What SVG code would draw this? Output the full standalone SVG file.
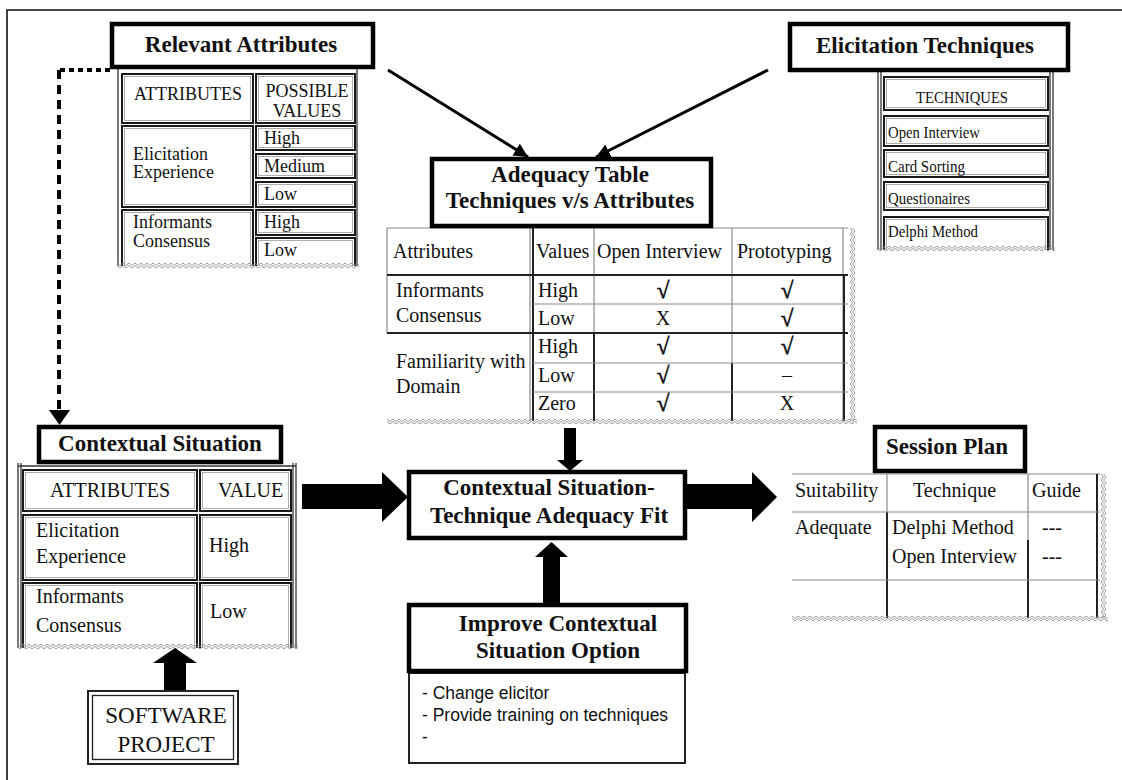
<svg xmlns="http://www.w3.org/2000/svg" width="1122" height="780" viewBox="0 0 1122 780">
  <style>
    .title { font-family: "Liberation Serif", serif; font-weight: bold; font-size: 23px; text-anchor: middle; fill: #111; }
    .t18 { font-family: "Liberation Serif", serif; font-size: 18px; fill: #111; }
    .t20 { font-family: "Liberation Serif", serif; font-size: 20px; fill: #111; }
    .t23 { font-family: "Liberation Serif", serif; font-size: 23px; fill: #111; }
    .t17 { font-family: "Liberation Serif", serif; font-size: 17.5px; fill: #111; }
    .sans { font-family: "Liberation Sans", Arial, sans-serif; font-size: 17.5px; fill: #111; }
    .mid { text-anchor: middle; }
    .chk { font-size: 23px; stroke: #111; stroke-width: 0.6; }
    .hdr { fill: #fff; stroke: #000; stroke-width: 4.5; }
    .c1 { fill: none; stroke: #1a1a1a; stroke-width: 2; }
    .c2 { fill: none; stroke: #9a9a9a; stroke-width: 0.8; }
    .ol { stroke: #333; stroke-width: 1.3; }
    .gl { stroke: #8a8a8a; stroke-width: 1.2; }
    .dl { stroke: #222; stroke-width: 2; }
    .blk { fill: #000; }
    .thin { fill: none; stroke: #000; stroke-width: 3; }
  </style>
  <defs>
    <marker id="tri" viewBox="0 0 10 10" refX="10" refY="5" markerWidth="14" markerHeight="14" markerUnits="userSpaceOnUse" orient="auto">
      <path d="M0,0 L10,5 L0,10 z" fill="#000"/>
    </marker>
    <!-- torn-edge zigzags, horizontal and vertical -->
    <pattern id="wh" width="6" height="7" patternUnits="userSpaceOnUse">
      <polyline points="0,1 3,3.5 6,1" fill="none" stroke="#8c8c8c" stroke-width="0.9"/>
      <polyline points="0,3.5 3,6 6,3.5" fill="none" stroke="#8c8c8c" stroke-width="0.9"/>
    </pattern>
    <pattern id="wv" width="7" height="6" patternUnits="userSpaceOnUse">
      <polyline points="1,0 3.5,3 1,6" fill="none" stroke="#8c8c8c" stroke-width="0.9"/>
      <polyline points="3.5,0 6,3 3.5,6" fill="none" stroke="#8c8c8c" stroke-width="0.9"/>
    </pattern>
  </defs>

  <rect width="1122" height="780" fill="#fff"/>
  <!-- page frame -->
  <path d="M7,780 V10 H1122" fill="none" stroke="#111" stroke-width="1.6"/>

  <!-- Relevant Attributes -->
  <g id="relevant-attributes">
    <line class="ol" x1="118" y1="68" x2="118" y2="266"/>
    <line class="ol" x1="357" y1="68" x2="357" y2="266"/>
    <rect class="c1" x="122" y="74" width="131" height="49"/><rect class="c2" x="124.5" y="76.5" width="126" height="44"/>
    <rect class="c1" x="256" y="74" width="99" height="49"/><rect class="c2" x="258.5" y="76.5" width="94" height="44"/>
    <rect class="c1" x="122" y="126" width="131" height="81"/><rect class="c2" x="124.5" y="128.5" width="126" height="76"/>
    <rect class="c1" x="256" y="126" width="99" height="24"/><rect class="c2" x="258.5" y="128.5" width="94" height="19"/>
    <rect class="c1" x="256" y="154" width="99" height="24"/><rect class="c2" x="258.5" y="156.5" width="94" height="19"/>
    <rect class="c1" x="256" y="182" width="99" height="25"/><rect class="c2" x="258.5" y="184.5" width="94" height="20"/>
    <rect class="c1" x="122" y="210" width="131" height="62"/><rect class="c2" x="124.5" y="212.5" width="126" height="57"/>
    <rect class="c1" x="256" y="210" width="99" height="25"/><rect class="c2" x="258.5" y="212.5" width="94" height="20"/>
    <rect class="c1" x="256" y="238" width="99" height="34"/><rect class="c2" x="258.5" y="240.5" width="94" height="29"/>
    <rect x="112" y="266" width="250" height="10" fill="#fff"/>
    <rect transform="translate(117,262)" width="242" height="7" fill="url(#wh)"/>
    <rect class="hdr" x="112" y="24" width="261" height="43"/>
    <text class="title" x="241" y="52">Relevant Attributes</text>
    <text class="t18 mid" x="188" y="100">ATTRIBUTES</text>
    <text class="t18 mid" x="307" y="97">POSSIBLE</text>
    <text class="t18 mid" x="307" y="117">VALUES</text>
    <text class="t18" x="133" y="160">Elicitation</text>
    <text class="t18" x="133" y="178">Experience</text>
    <text class="t18" x="264" y="144">High</text>
    <text class="t18" x="264" y="172">Medium</text>
    <text class="t18" x="264" y="200">Low</text>
    <text class="t18" x="133" y="228">Informants</text>
    <text class="t18" x="133" y="247">Consensus</text>
    <text class="t18" x="264" y="228">High</text>
    <text class="t18" x="264" y="256">Low</text>
  </g>

  <!-- Elicitation Techniques -->
  <g id="elicitation-techniques">
    <line class="ol" x1="878" y1="70" x2="878" y2="250"/>
    <line class="ol" x1="881" y1="70" x2="881" y2="250"/>
    <line class="ol" x1="1050" y1="70" x2="1050" y2="250"/>
    <line class="ol" x1="1053" y1="70" x2="1053" y2="250"/>
    <rect class="c1" x="884" y="77" width="164" height="33"/><rect class="c2" x="886.5" y="79.5" width="159" height="28"/>
    <rect class="c1" x="884" y="116" width="164" height="30"/><rect class="c2" x="886.5" y="118.5" width="159" height="25"/>
    <rect class="c1" x="884" y="150" width="164" height="27"/><rect class="c2" x="886.5" y="152.5" width="159" height="22"/>
    <rect class="c1" x="884" y="182" width="164" height="28"/><rect class="c2" x="886.5" y="184.5" width="159" height="23"/>
    <rect class="c1" x="884" y="217" width="164" height="40"/><rect class="c2" x="886.5" y="219.5" width="159" height="35"/>
    <rect x="872" y="250" width="190" height="12" fill="#fff"/>
    <rect transform="translate(877,245)" width="178" height="7" fill="url(#wh)"/>
    <rect class="hdr" x="790" y="24" width="278" height="46"/>
    <text class="title" x="925" y="53">Elicitation Techniques</text>
    <text class="t17 mid" x="962" y="103" textLength="92" lengthAdjust="spacingAndGlyphs">TECHNIQUES</text>
    <text class="t17" x="888" y="138" textLength="92" lengthAdjust="spacingAndGlyphs">Open Interview</text>
    <text class="t17" x="888" y="172" textLength="77" lengthAdjust="spacingAndGlyphs">Card Sorting</text>
    <text class="t17" x="888" y="204" textLength="82" lengthAdjust="spacingAndGlyphs">Questionaires</text>
    <text class="t17" x="888" y="237" textLength="90" lengthAdjust="spacingAndGlyphs">Delphi Method</text>
  </g>

  <!-- Adequacy Table -->
  <g id="adequacy-table">
    <line class="gl" x1="387" y1="228" x2="850" y2="228"/>
    <line class="gl" x1="387" y1="228" x2="387" y2="333"/>
    <line class="gl" x1="530" y1="228" x2="530" y2="421"/>
    <line class="dl" x1="533" y1="228" x2="533" y2="421"/>
    <line class="gl" x1="594" y1="228" x2="594" y2="421"/>
    <line class="dl" x1="594" y1="333" x2="594" y2="421"/>
    <line class="gl" x1="732" y1="228" x2="732" y2="421"/>
    <line class="dl" x1="732" y1="363" x2="732" y2="421"/>
    <line class="gl" x1="843" y1="228" x2="843" y2="421"/>
    <line class="dl" x1="844" y1="275" x2="844" y2="421"/>
    <line class="dl" x1="387" y1="275" x2="850" y2="275"/>
    <line class="gl" x1="533" y1="304" x2="850" y2="304"/>
    <line class="dl" x1="387" y1="333" x2="850" y2="333"/>
    <line class="gl" x1="533" y1="363" x2="850" y2="363"/>
    <line class="gl" x1="533" y1="392" x2="850" y2="392"/>
    <rect x="848" y="222" width="14" height="204" fill="#fff"/>
    <rect x="380" y="421" width="485" height="6" fill="#fff"/>
    <rect transform="translate(849,228)" width="7" height="193" fill="url(#wv)"/>
    <rect transform="translate(387,418)" width="470" height="7" fill="url(#wh)"/>
    <rect class="hdr" x="432" y="159" width="279" height="67"/>
    <text class="title" x="570" y="182">Adequacy Table</text>
    <text class="title" x="570" y="208">Techniques v/s Attributes</text>
    <text class="t20" x="393" y="258">Attributes</text>
    <text class="t20" x="536" y="258">Values</text>
    <text class="t20" x="597" y="258">Open Interview</text>
    <text class="t20" x="737" y="258">Prototyping</text>
    <text class="t20" x="396" y="297">Informants</text>
    <text class="t20" x="396" y="322">Consensus</text>
    <text class="t20" x="396" y="368">Familiarity with</text>
    <text class="t20" x="396" y="393">Domain</text>
    <text class="t20" x="538" y="297">High</text>
    <text class="t20" x="538" y="325">Low</text>
    <text class="t20" x="538" y="353">High</text>
    <text class="t20" x="538" y="382">Low</text>
    <text class="t20" x="538" y="410">Zero</text>
    <text class="t20 mid chk" x="663" y="298">√</text>
    <text class="t20 mid" x="663" y="325">X</text>
    <text class="t20 mid chk" x="663" y="354">√</text>
    <text class="t20 mid chk" x="663" y="383">√</text>
    <text class="t20 mid chk" x="663" y="411">√</text>
    <text class="t20 mid chk" x="787" y="298">√</text>
    <text class="t20 mid chk" x="787" y="326">√</text>
    <text class="t20 mid chk" x="787" y="354">√</text>
    <text class="t20 mid" x="787" y="382">–</text>
    <text class="t20 mid" x="787" y="410">X</text>
  </g>

  <!-- Contextual Situation -->
  <g id="contextual-situation">
    <line class="ol" x1="18" y1="463" x2="18" y2="648"/>
    <line class="ol" x1="21" y1="463" x2="21" y2="648"/>
    <line class="ol" x1="293" y1="463" x2="293" y2="648"/>
    <line class="ol" x1="296" y1="463" x2="296" y2="648"/>
    <line class="ol" x1="18" y1="466" x2="296" y2="466"/>
    <rect class="c1" x="23" y="470" width="174" height="41"/><rect class="c2" x="25.5" y="472.5" width="169" height="36"/>
    <rect class="c1" x="200" y="470" width="91" height="41"/><rect class="c2" x="202.5" y="472.5" width="86" height="36"/>
    <rect class="c1" x="23" y="515" width="174" height="65"/><rect class="c2" x="25.5" y="517.5" width="169" height="60"/>
    <rect class="c1" x="200" y="515" width="91" height="65"/><rect class="c2" x="202.5" y="517.5" width="86" height="60"/>
    <rect class="c1" x="23" y="583" width="174" height="72"/><rect class="c2" x="25.5" y="585.5" width="169" height="67"/>
    <rect class="c1" x="200" y="583" width="91" height="72"/><rect class="c2" x="202.5" y="585.5" width="86" height="67"/>
    <rect x="12" y="648" width="292" height="12" fill="#fff"/>
    <rect transform="translate(17,643)" width="281" height="7" fill="url(#wh)"/>
    <rect class="hdr" x="39" y="427" width="242" height="35" stroke-width="4"/>
    <text class="title" x="160" y="451">Contextual Situation</text>
    <text class="t20 mid" x="110" y="497">ATTRIBUTES</text>
    <text class="t20" x="218" y="497">VALUE</text>
    <text class="t20" x="36" y="537">Elicitation</text>
    <text class="t20" x="36" y="563">Experience</text>
    <text class="t20" x="209" y="552">High</text>
    <text class="t20" x="36" y="603">Informants</text>
    <text class="t20" x="36" y="632">Consensus</text>
    <text class="t20" x="210" y="618">Low</text>
  </g>

  <!-- Software Project -->
  <g id="software-project">
    <rect x="88" y="691" width="150" height="73" fill="#fff" stroke="#222" stroke-width="2"/>
    <rect x="92.5" y="695.5" width="141" height="64" fill="none" stroke="#222" stroke-width="1.3"/>
    <text class="t23 mid" x="166" y="723">SOFTWARE</text>
    <text class="t23 mid" x="166" y="752">PROJECT</text>
  </g>

  <!-- Contextual Situation-Technique Adequacy Fit -->
  <g id="adequacy-fit">
    <rect class="hdr" x="409" y="472" width="276" height="66" stroke-width="4"/>
    <text class="title" x="549" y="495">Contextual Situation-</text>
    <text class="title" x="549" y="523">Technique Adequacy Fit</text>
  </g>

  <!-- Improve Contextual Situation Option -->
  <g id="improve-option">
    <rect x="409" y="673" width="276" height="90" fill="#fff" stroke="#222" stroke-width="2"/>
    <rect class="hdr" x="409" y="605" width="277" height="66"/>
    <text class="title" x="558" y="631">Improve Contextual</text>
    <text class="title" x="558" y="658">Situation Option</text>
    <text class="sans" x="422" y="699">- Change elicitor</text>
    <text class="sans" x="422" y="721">- Provide training on techniques</text>
    <text class="sans" x="422" y="743">-</text>
  </g>

  <!-- Session Plan -->
  <g id="session-plan">
    <line class="gl" x1="792" y1="474" x2="1100" y2="474" stroke-width="2"/>
    <line class="gl" x1="887" y1="474" x2="887" y2="618"/>
    <line class="dl" x1="887" y1="512" x2="887" y2="618"/>
    <line class="gl" x1="1028" y1="474" x2="1028" y2="618"/>
    <line class="dl" x1="1028" y1="540" x2="1028" y2="618"/>
    <line class="dl" x1="1097" y1="474" x2="1097" y2="618"/>
    <line class="gl" x1="792" y1="512" x2="1100" y2="512" stroke-width="2"/>
    <line class="gl" x1="792" y1="580" x2="1100" y2="580" stroke-width="2"/>
    <rect x="785" y="618" width="330" height="8" fill="#fff"/>
    <rect transform="translate(1100,474)" width="7" height="144" fill="url(#wv)"/>
    <rect transform="translate(792,615)" width="316" height="7" fill="url(#wh)"/>
    <rect class="hdr" x="875" y="427" width="150" height="44"/>
    <text class="title" x="947" y="454">Session Plan</text>
    <text class="t20" x="795" y="497">Suitability</text>
    <text class="t20" x="913" y="497">Technique</text>
    <text class="t20" x="1032" y="497">Guide</text>
    <text class="t20" x="795" y="534">Adequate</text>
    <text class="t20" x="892" y="534">Delphi Method</text>
    <text class="t20" x="892" y="563">Open Interview</text>
    <text class="t20" x="1042" y="534">---</text>
    <text class="t20" x="1042" y="563">---</text>
  </g>

  <!-- connectors -->
  <g id="connectors">
    <path d="M110,70 H59" fill="none" stroke="#000" stroke-width="4" stroke-dasharray="5 4"/>
    <path d="M59,70 V410" fill="none" stroke="#000" stroke-width="4" stroke-dasharray="9 6"/>
    <polygon class="blk" points="49,410 70,410 59.5,425"/>
    <line class="thin" x1="388" y1="70" x2="528" y2="157" marker-end="url(#tri)"/>
    <line class="thin" x1="768" y1="70" x2="596" y2="157" marker-end="url(#tri)"/>
    <polygon class="blk" points="302,484 382,484 382,472 408,497 382,522 382,509 302,509"/>
    <polygon class="blk" points="687,484 752,484 752,472 777,497 752,522 752,509 687,509"/>
    <polygon class="blk" points="564,428 576,428 576,460 583,460 570,471 557,460 564,460"/>
    <polygon class="blk" points="543,605 543,557 535,557 551.5,542 568,557 560,557 560,605"/>
    <polygon class="blk" points="164,690 164,663 153,663 175,648 197,663 186,663 186,690"/>
  </g>
</svg>
